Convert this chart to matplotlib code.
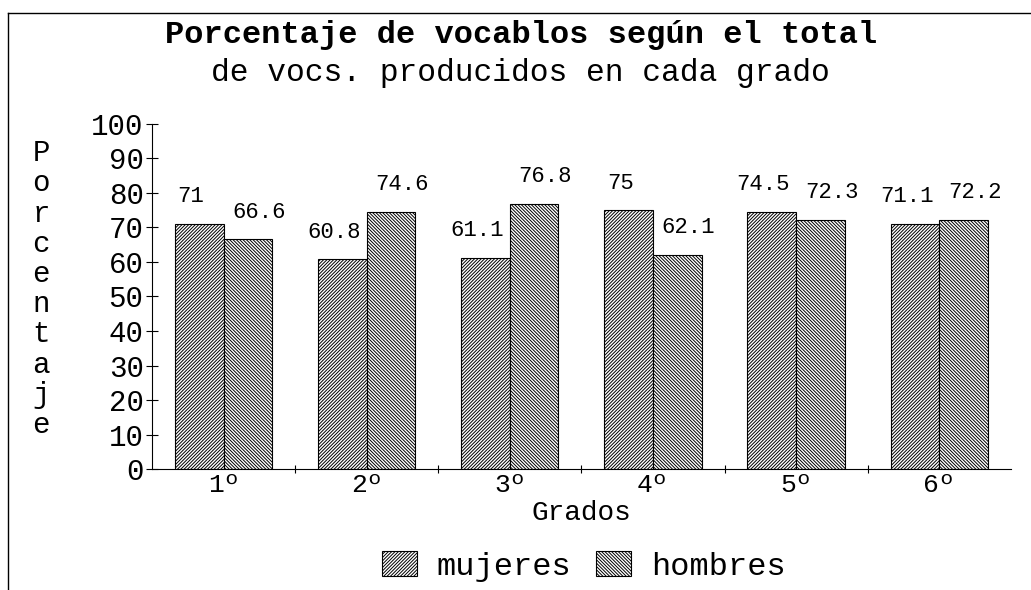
import matplotlib
matplotlib.use('Agg')
from matplotlib import pyplot as plt
from matplotlib.lines import Line2D
import numpy as np

grados = ['1º', '2º', '3º', '4º', '5º', '6º']
mujeres = [71, 60.8, 61.1, 75, 74.5, 71.1]
hombres = [66.6, 74.6, 76.8, 62.1, 72.3, 72.2]
mujeres_txt = ['71', '60.8', '61.1', '75', '74.5', '71.1']
hombres_txt = ['66.6', '74.6', '76.8', '62.1', '72.3', '72.2']
y_ticks = [0, 10, 20, 30, 40, 50, 60, 70, 80, 90, 100]

plt.rcParams['font.family'] = ['Liberation Mono', 'DejaVu Sans Mono']
plt.rcParams['hatch.linewidth'] = 0.7

fig = plt.figure(figsize=(10.31, 5.90), dpi=100)
ax = fig.add_axes([0.1474, 0.205, 0.833, 0.585])

x = np.arange(len(grados)) + 0.5
w = 0.34
b1 = ax.bar(x - w / 2, mujeres, w, color='white', edgecolor='black', hatch='/' * 10, linewidth=0.8, label='mujeres')
b2 = ax.bar(x + w / 2, hombres, w, color='white', edgecolor='black', hatch='\\' * 10, linewidth=0.8, label='hombres')

for i in range(len(grados)):
    ax.annotate(mujeres_txt[i], (x[i] - w / 2, mujeres[i]), xytext=(-6, 12), textcoords='offset points',
                ha='center', va='bottom', fontsize=16)
    ax.annotate(hombres_txt[i], (x[i] + w / 2, hombres[i]), xytext=(8, 12), textcoords='offset points',
                ha='center', va='bottom', fontsize=16)

ax.set_xlim(0, len(grados))
ax.set_ylim(0, 100)
ax.set_yticks(y_ticks)
ax.tick_params(axis='y', labelsize=21, direction='inout', length=8, pad=2)
ax.set_xticks(np.arange(1, len(grados)))
ax.set_xticklabels([])
ax.set_xticks(x, minor=True)
ax.set_xticklabels(grados, minor=True, fontsize=19)
ax.tick_params(axis='x', which='major', direction='inout', length=6)
ax.tick_params(axis='x', which='minor', length=0, pad=3)
ax.spines['top'].set_visible(False)
ax.spines['right'].set_visible(False)
ax.set_xlabel('Grados', fontsize=20, labelpad=2)

fig.text(0.04, 0.51, '\n'.join('Porcentaje'), fontsize=21, ha='center', va='center', linespacing=1.1)

fig.text(0.505, 0.94, 'Porcentaje de vocablos según el total', fontsize=23, fontweight='bold', ha='center', va='center')
fig.text(0.505, 0.877, 'de vocs. producidos en cada grado', fontsize=22.5, ha='center', va='center')

fig.legend(handles=[b1, b2], loc='center', bbox_to_anchor=(0.566, 0.04), ncol=2, frameon=False,
           fontsize=23, handlelength=1.1, handleheight=0.8, columnspacing=0.8, handletextpad=0.6)

# scanned page frame
fig.add_artist(Line2D([0.008, 1.0], [0.978, 0.978], transform=fig.transFigure, color='black', linewidth=1))
fig.add_artist(Line2D([0.008, 0.008], [0.0, 0.978], transform=fig.transFigure, color='black', linewidth=1))

fig.savefig('out.png', dpi=100)
